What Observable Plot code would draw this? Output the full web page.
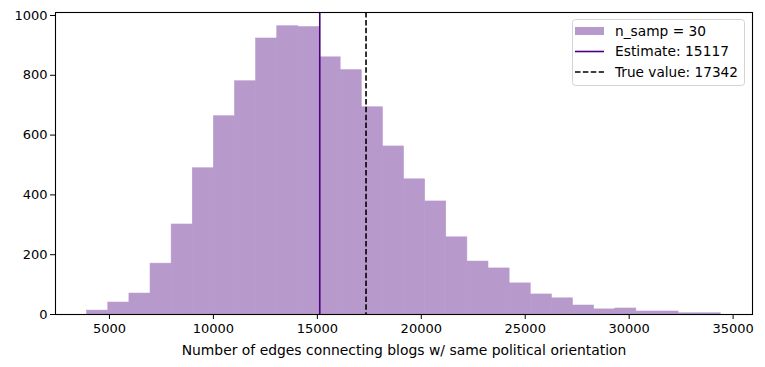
<!DOCTYPE html>
<html>
<head>
<meta charset="utf-8">
<script src="https://cdn.jsdelivr.net/npm/d3@7"></script>
<script src="https://cdn.jsdelivr.net/npm/@observablehq/plot@0.6"></script>
<style>
  html, body { margin: 0; padding: 0; background: #fff; }
  #wrap { position: relative; width: 765px; height: 367px; }
  #wrap svg text { font-family: 'DejaVu Sans'; fill: #000; }
  #wrap svg g[aria-label="y-axis tick label"] text, #wrap svg g[aria-label="x-axis tick label"] text { font-size: 13px; }
  #wrap svg g[aria-label="x-axis label"] text { font-size: 13.9px; }
  #wrap svg g.legend text { font-size: 13.8px; }
</style>
</head>
<body>
<div id="wrap"></div>
<script>
// Histogram definition (30 equal bins between binLo and binHi)
const binLo = 3928;
const binHi = 34409;
const counts = [13, 40, 70, 170, 301, 489, 663, 780, 923, 964,
                961, 860, 817, 693, 562, 452, 378, 258, 177, 154,
                104, 67, 54, 30, 17, 20, 10, 10, 4, 4];
const estimate = 15117;
const trueValue = 17342;
const xTicks = [5000, 10000, 15000, 20000, 25000, 30000, 35000];
const yTicks = [0, 200, 400, 600, 800, 1000];
const legendLabels = ["n_samp = 30", "Estimate: 15117", "True value: 17342"];
const xLabel = "Number of edges connecting blogs w/ same political orientation";

const nb = counts.length;
const w = (binHi - binLo) / nb;
const bins = counts.map((c, i) => ({x1: binLo + i * w, x2: binLo + (i + 1) * w, y: c}));

const histColor = "#b799cc";
const estColor = "#4b0082";

const chart = Plot.plot({
  width: 765,
  height: 367,
  marginLeft: 55,
  marginRight: 13,
  marginTop: 12,
  marginBottom: 53,
  style: {fontFamily: "'DejaVu Sans'", fontSize: "13px", color: "#000", background: "#fff"},
  x: {domain: [2404, 35933], ticks: xTicks, tickFormat: d3.format("d")},
  y: {domain: [0, 1010], ticks: yTicks, tickFormat: d3.format("d")},
  marks: [
    Plot.rect(bins, {x1: "x1", x2: "x2", y1: 0, y2: "y", fill: histColor, stroke: histColor, strokeWidth: 0.6, inset: 0}),
    Plot.ruleX([estimate], {stroke: estColor, strokeWidth: 1.6}),
    Plot.ruleX([trueValue], {stroke: "#000", strokeWidth: 1.6, strokeDasharray: "5.5,2.4"}),
    Plot.axisY({ticks: yTicks, tickSize: 5, tickPadding: 3, label: null, tickFormat: d3.format("d")}),
    Plot.axisX({ticks: xTicks, tickSize: 5, tickPadding: 4, label: xLabel, labelAnchor: "center", labelOffset: 40, labelArrow: "none", tickFormat: d3.format("d")}),
    Plot.frame({stroke: "#000", strokeWidth: 1.1})
  ]
});

const wrap = document.getElementById("wrap");
wrap.appendChild(chart);

// Legend drawn inside the SVG (upper right, matplotlib style)
const svg = d3.select(chart);
const lg = svg.append("g").attr("class", "legend").attr("text-anchor", "start");
lg.append("rect").attr("x", 572.5).attr("y", 19.5).attr("width", 172).attr("height", 66)
  .attr("rx", 3).attr("fill", "#fff").attr("fill-opacity", 0.8).attr("stroke", "#d4d4d4").attr("stroke-width", 1);
const rowY = [31, 51.5, 72];
const rowLen = [91, 114, 123];
lg.append("rect").attr("x", 575).attr("y", rowY[0] - 4).attr("width", 29).attr("height", 8).attr("fill", histColor);
lg.append("line").attr("x1", 575).attr("x2", 604).attr("y1", rowY[1]).attr("y2", rowY[1])
  .attr("stroke", estColor).attr("stroke-width", 1.6);
lg.append("line").attr("x1", 575).attr("x2", 604).attr("y1", rowY[2]).attr("y2", rowY[2])
  .attr("stroke", "#000").attr("stroke-width", 1.6).attr("stroke-dasharray", "5.5,2.4");
legendLabels.forEach((t, i) => {
  lg.append("text").attr("x", 615).attr("y", rowY[i]).attr("dy", "0.36em").attr("text-anchor", "start")
    .attr("textLength", rowLen[i]).attr("lengthAdjust", "spacingAndGlyphs")
    .style("font-family", "'DejaVu Sans'").attr("fill", "#000").text(t);
});
</script>
</body>
</html>
